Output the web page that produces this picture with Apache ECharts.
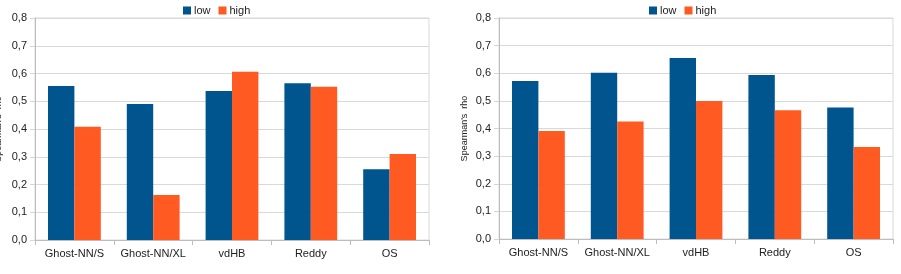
<!DOCTYPE html>
<html>
<head>
<meta charset="utf-8">
<script src="https://cdn.jsdelivr.net/npm/echarts@6/dist/echarts.min.js"></script>
<style>
  html, body { margin: 0; padding: 0; background: #fff; }
  #main { width: 901px; height: 274px; }
</style>
</head>
<body>
<div id="main"></div>
<script>
// data
const categories = ['Ghost-NN/S', 'Ghost-NN/XL', 'vdHB', 'Reddy', 'OS'];
const leftLow = [0.555, 0.49, 0.537, 0.565, 0.255];
const leftHigh = [0.408, 0.162, 0.606, 0.552, 0.31];
const rightLow = [0.572, 0.602, 0.655, 0.594, 0.476];
const rightHigh = [0.391, 0.425, 0.5, 0.466, 0.333];
const yTicks = [0, 0.1, 0.2, 0.3, 0.4, 0.5, 0.6, 0.7, 0.8];

const BLUE = '#00558f';
const ORANGE = '#ff5a22';
const FONT = 'Liberation Sans';

const chart = echarts.init(document.getElementById('main'));

// one x axis per panel
const makeX = (gi) => ({
  type: 'category',
  gridIndex: gi,
  data: categories,
  axisLine: { lineStyle: { color: '#bdbdbd' } },
  axisTick: { show: true, length: 5, lineStyle: { color: '#bdbdbd' } },
  axisLabel: { color: '#222', fontSize: 11, fontFamily: FONT, margin: 8, interval: 0 },
});

// y axis 0..0,8 with comma decimals
const makeY = (gi, gap) => ({
  type: 'value',
  gridIndex: gi,
  min: yTicks[0],
  max: yTicks[yTicks.length - 1],
  interval: 0.1,
  name: "Spearman's  rho",
  nameLocation: 'middle',
  nameGap: gap,
  nameTextStyle: { color: '#222', fontSize: 9, fontFamily: FONT },
  axisLine: { show: true, lineStyle: { color: '#bdbdbd' } },
  axisTick: { show: true, length: 5, lineStyle: { color: '#d6d6d6' } },
  axisLabel: {
    color: '#222', fontSize: 11, fontFamily: FONT, margin: 8,
    formatter: (v) => v.toFixed(1).replace('.', ','),
  },
  splitLine: { lineStyle: { color: '#d9d9d9' } },
});

const bar = (name, data, color, gi) => ({
  name: name,
  type: 'bar',
  xAxisIndex: gi,
  yAxisIndex: gi,
  data: data,
  barGap: '0%',
  barCategoryGap: '33%',
  itemStyle: { color: color },
});

const legendStyle = (left) => ({
  left: left,
  top: 0,
  icon: 'rect',
  itemWidth: 8,
  itemHeight: 8,
  itemGap: 8,
  textStyle: { color: '#222', fontSize: 11, fontFamily: FONT, padding: [0, 0, 0, -2] },
  data: ['low', 'high'],
  selectedMode: false,
});

chart.setOption({
  animation: false,
  legend: [legendStyle(178), legendStyle(644)],
  grid: [
    { left: 35, top: 18, width: 394, height: 222, outerBoundsMode: 'none', show: true, borderColor: '#d9d9d9', borderWidth: 1 },
    { left: 499, top: 18, width: 394, height: 221, outerBoundsMode: 'none', show: true, borderColor: '#d9d9d9', borderWidth: 1 },
  ],
  xAxis: [makeX(0), makeX(1)],
  yAxis: [makeY(0, 32), makeY(1, 30)],
  series: [
    bar('low', leftLow, BLUE, 0),
    bar('high', leftHigh, ORANGE, 0),
    bar('low', rightLow, BLUE, 1),
    bar('high', rightHigh, ORANGE, 1),
  ],
});
</script>
</body>
</html>
